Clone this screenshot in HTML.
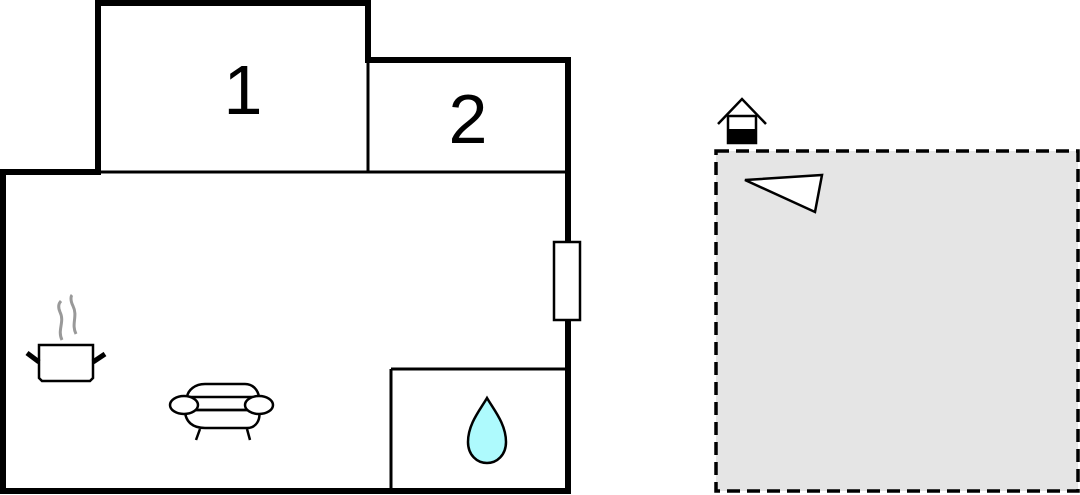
<!DOCTYPE html>
<html><head><meta charset="utf-8"><style>html,body{margin:0;padding:0;background:#fff;}svg{display:block}</style></head>
<body>
<svg width="1080" height="495" viewBox="0 0 1080 495" xmlns="http://www.w3.org/2000/svg">
<rect width="1080" height="495" fill="#fff"/>
<g stroke="#000" stroke-width="3" fill="none">
<line x1="98" y1="172" x2="568" y2="172"/>
<line x1="368" y1="60" x2="368" y2="172"/>
<line x1="391" y1="369" x2="391" y2="492"/>
<line x1="391" y1="369" x2="568" y2="369"/>
</g>
<path d="M3,491 L3,172 L98,172 L98,3 L368,3 L368,60 L568,60 L568,491 Z" stroke="#000" stroke-width="6" fill="none" stroke-linejoin="miter"/>
<rect x="554" y="242" width="26" height="78" fill="#fff" stroke="#000" stroke-width="2.5"/>
<text x="243" y="114" font-family="Liberation Sans, sans-serif" font-size="70" text-anchor="middle">1</text>
<text x="468" y="143" font-family="Liberation Sans, sans-serif" font-size="70" text-anchor="middle">2</text>
<path d="M487,398 C480,410 468,424 468,442 C468,455 477,463 487,463 C497,463 506,455 506,442 C506,424 494,410 487,398 Z" fill="#aefafd" stroke="#000" stroke-width="2.5"/>
<g stroke="#000" fill="none">
<path d="M39,345 L93,345 L93,378 L90,381 L42,381 L39,378 Z" fill="#fff" stroke-width="2.5"/>
<line x1="27" y1="353" x2="39" y2="362" stroke-width="5"/>
<line x1="105" y1="354" x2="93" y2="362" stroke-width="5"/>
</g>
<g stroke="#999" stroke-width="3" fill="none">
<path d="M62,340 C57,330 65,322 60,312 C57,305 60,302 61,301"/>
<path d="M76,334 C71,324 78,316 73,306 C70,300 71,296 72,295"/>
</g>
<g stroke="#000" stroke-width="2.5" fill="#fff">
<path d="M185,410 C185,422 193,428 205,428 L247,428 C256,428 261,420 259,410 Z"/>
<path d="M187,397 C188,390 195,384 205,384 L245,384 C253,384 258,390 259,397 Z"/>
<line x1="187" y1="410" x2="259" y2="410"/>
<ellipse cx="184" cy="405" rx="14" ry="9"/>
<ellipse cx="259" cy="405" rx="14" ry="9"/>
<line x1="200" y1="429" x2="196" y2="440"/>
<line x1="247" y1="429" x2="250" y2="440"/>
</g>
<rect x="716" y="151" width="362" height="340" fill="#e5e5e5" stroke="#000" stroke-width="3.5" stroke-dasharray="13,7"/>
<polygon points="745,180 822,175 815,212" fill="#fff" stroke="#000" stroke-width="2.5"/>
<rect x="728" y="116" width="28" height="27" fill="#fff" stroke="#000" stroke-width="2.5"/>
<rect x="728" y="129" width="28" height="14" fill="#000"/>
<polyline points="718,124 742,99 766,124" fill="none" stroke="#000" stroke-width="2.5"/>
</svg>
</body></html>
